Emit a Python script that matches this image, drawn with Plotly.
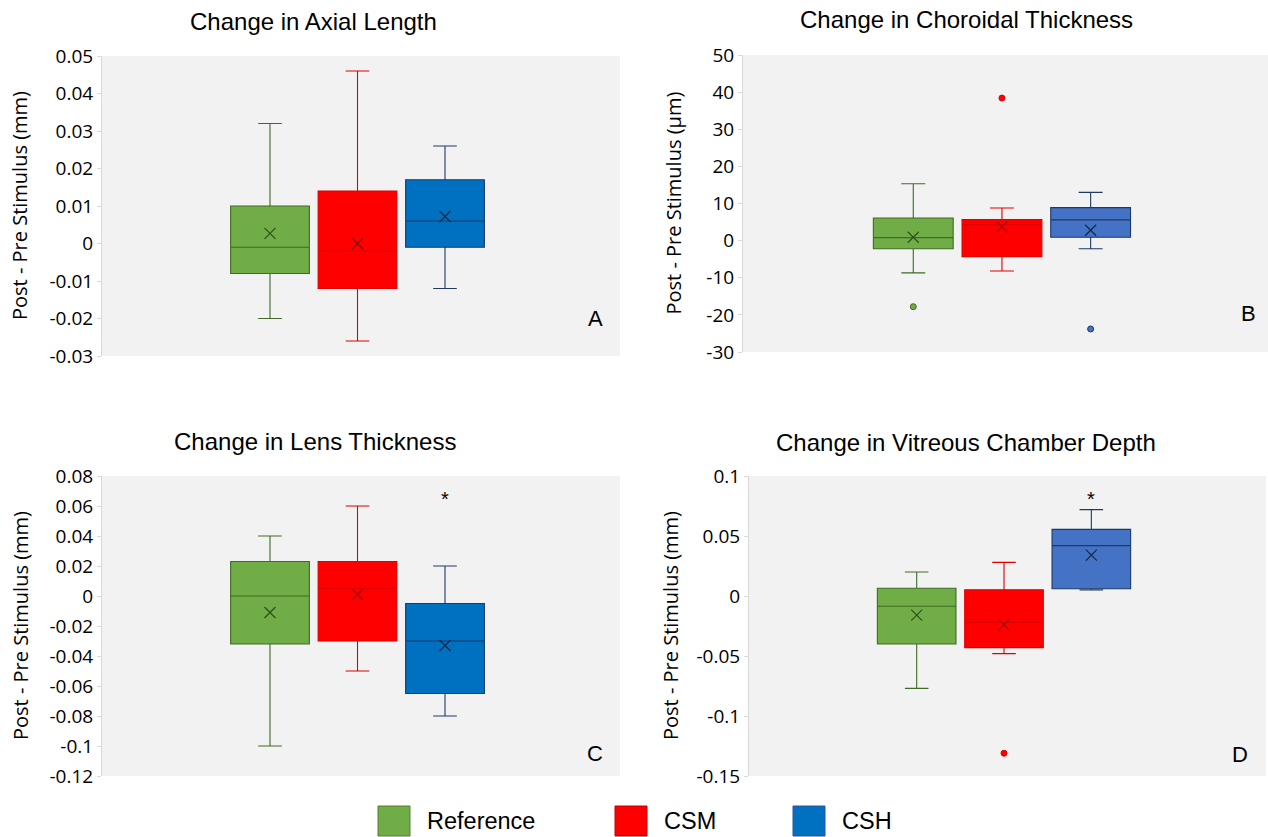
import plotly.graph_objects as go

# ---------------- data ----------------
groups = ["Reference", "CSM", "CSH"]

# Panel A: Change in Axial Length (mm)
axial_lower = [-0.020, -0.026, -0.012]
axial_q1 = [-0.008, -0.012, -0.001]
axial_median = [-0.001, -0.002, 0.006]
axial_q3 = [0.010, 0.014, 0.017]
axial_upper = [0.032, 0.046, 0.026]
axial_mean = [0.0027, 0.0, 0.0072]
axial_outliers = [[], [], []]
axial_ticks = [-0.03, -0.02, -0.01, 0, 0.01, 0.02, 0.03, 0.04, 0.05]

# Panel B: Change in Choroidal Thickness (um)
choroid_lower = [-8.7, -8.2, -2.2]
choroid_q1 = [-2.2, -4.3, 0.9]
choroid_median = [0.8, 4.3, 5.6]
choroid_q3 = [6.1, 5.7, 8.9]
choroid_upper = [15.3, 8.8, 13.0]
choroid_mean = [0.9, 3.7, 2.8]
choroid_outliers = [[-17.8], [38.4], [-23.8]]
choroid_ticks = [-30, -20, -10, 0, 10, 20, 30, 40, 50]

# Panel C: Change in Lens Thickness (mm)
lens_lower = [-0.100, -0.050, -0.080]
lens_q1 = [-0.032, -0.030, -0.065]
lens_median = [0.000, 0.005, -0.030]
lens_q3 = [0.023, 0.023, -0.005]
lens_upper = [0.040, 0.060, 0.020]
lens_mean = [-0.011, 0.001, -0.033]
lens_outliers = [[], [], []]
lens_ticks = [-0.12, -0.1, -0.08, -0.06, -0.04, -0.02, 0, 0.02, 0.04, 0.06, 0.08]

# Panel D: Change in Vitreous Chamber Depth (mm)
vcd_lower = [-0.077, -0.048, 0.005]
vcd_q1 = [-0.040, -0.043, 0.006]
vcd_median = [-0.0085, -0.022, 0.042]
vcd_q3 = [0.0065, 0.0052, 0.0555]
vcd_upper = [0.020, 0.028, 0.072]
vcd_mean = [-0.016, -0.024, 0.034]
vcd_outliers = [[], [-0.131], []]
vcd_ticks = [-0.15, -0.1, -0.05, 0, 0.05, 0.1]

# significance markers (group index, y value)
lens_sig = [(2, 0.068)]
vcd_sig = [(2, 0.085)]

# ---------------- styling ----------------
W, H = 1268, 837
def px(x):
    return x / W
def py(y):
    return 1 - y / H

fills_ac = ["#70ad47", "#ff0000", "#0070c0"]
fills_bd = ["#70ad47", "#ff0000", "#4472c4"]
lines = ["#3f6b26", "#e00000", "#1f3864"]
mean_cols = ["#2f4f1c", "#9a0000", "#152746"]
positions = [1, 2, 3]
SANS = "Open Sans, Noto Sans, sans-serif"
TICKFONT = dict(family=SANS, size=19, color="#000000")
TXTFONT = "Liberation Sans, Arial, sans-serif"

panels = [
    dict(title="Change in Axial Length", unit="(mm)", label="A",
         lower=axial_lower, q1=axial_q1, med=axial_median, q3=axial_q3, upper=axial_upper,
         mean=axial_mean, out=axial_outliers, ticks=axial_ticks, sig=[], fills=fills_ac,
         dom_x=(102, 620), dom_y=(56, 356), title_xy=(313, 22), ylab_x=20, lab_xy=(595, 318)),
    dict(title="Change in Choroidal Thickness", unit="(\u03bcm)", label="B",
         lower=choroid_lower, q1=choroid_q1, med=choroid_median, q3=choroid_q3, upper=choroid_upper,
         mean=choroid_mean, out=choroid_outliers, ticks=choroid_ticks, sig=[], fills=fills_bd,
         dom_x=(743, 1268), dom_y=(55, 352), title_xy=(966, 20), ylab_x=673, lab_xy=(1248, 313)),
    dict(title="Change in Lens Thickness", unit="(mm)", label="C",
         lower=lens_lower, q1=lens_q1, med=lens_median, q3=lens_q3, upper=lens_upper,
         mean=lens_mean, out=lens_outliers, ticks=lens_ticks, sig=lens_sig, fills=fills_ac,
         dom_x=(102, 620), dom_y=(476, 776), title_xy=(315, 441), ylab_x=20, lab_xy=(595, 753)),
    dict(title="Change in Vitreous Chamber Depth", unit="(mm)", label="D",
         lower=vcd_lower, q1=vcd_q1, med=vcd_median, q3=vcd_q3, upper=vcd_upper,
         mean=vcd_mean, out=vcd_outliers, ticks=vcd_ticks, sig=vcd_sig, fills=fills_bd,
         dom_x=(749, 1266), dom_y=(476, 776), title_xy=(966, 442), ylab_x=670, lab_xy=(1240, 754)),
]

fig = go.Figure()
annotations = []
shapes = []

for i, p in enumerate(panels, start=1):
    xa = "x" if i == 1 else f"x{i}"
    ya = "y" if i == 1 else f"y{i}"
    for g in range(3):
        fig.add_trace(go.Box(
            x=[positions[g]], q1=[p["q1"][g]], median=[p["med"][g]], q3=[p["q3"][g]],
            lowerfence=[p["lower"][g]], upperfence=[p["upper"][g]],
            width=0.9, whiskerwidth=0.3, fillcolor=p["fills"][g],
            line=dict(color=lines[g], width=1.1), boxpoints=False,
            xaxis=xa, yaxis=ya, showlegend=False, hoverinfo="skip"))
        fig.add_trace(go.Scatter(
            x=[positions[g]], y=[p["mean"][g]], mode="markers",
            marker=dict(symbol="x-thin", size=11, line=dict(width=1.2, color=mean_cols[g])),
            xaxis=xa, yaxis=ya, showlegend=False, hoverinfo="skip"))
        if p["out"][g]:
            fig.add_trace(go.Scatter(
                x=[positions[g]] * len(p["out"][g]), y=p["out"][g], mode="markers",
                marker=dict(symbol="circle", size=6, color=p["fills"][g],
                            line=dict(width=1, color=lines[g])),
                xaxis=xa, yaxis=ya, showlegend=False, hoverinfo="skip"))
    for g, yv in p["sig"]:
        annotations.append(dict(x=positions[g], y=yv, xref=xa, yref=ya, text="*", yshift=-5,
                                showarrow=False, font=dict(family=TXTFONT, size=20, color="#000")))

    ticks = p["ticks"]
    x0, x1 = p["dom_x"]
    y0, y1 = p["dom_y"]
    axx = dict(domain=[px(x0), px(x1)], anchor=ya, range=[-0.92, 5.0], automargin=False,
               showticklabels=False, showgrid=False, zeroline=False, showline=False, ticks="")
    axy = dict(domain=[py(y1), py(y0)], anchor=xa, range=[ticks[0], ticks[-1]], automargin=False,
               tickvals=ticks, ticktext=[f"{t:g}" for t in ticks],
               showgrid=False, zeroline=False, showline=True, linecolor="#d9d9d9", linewidth=1,
               ticks="outside", ticklen=4, tickcolor="#d9d9d9", tickfont=TICKFONT)
    fig.update_layout({("xaxis" if i == 1 else f"xaxis{i}"): axx,
                       ("yaxis" if i == 1 else f"yaxis{i}"): axy})

    annotations.append(dict(x=px(p["title_xy"][0]), y=py(p["title_xy"][1]), xref="paper", yref="paper",
                            text=p["title"], showarrow=False, xanchor="center", yanchor="middle",
                            font=dict(family=TXTFONT, size=24, color="#000")))
    annotations.append(dict(x=px(p["ylab_x"]), y=py((y0 + y1) / 2), xref="paper", yref="paper",
                            text="Post - Pre Stimulus " + p["unit"], textangle=-90, showarrow=False,
                            xanchor="center", yanchor="middle",
                            font=dict(family=SANS, size=20, color="#000")))
    annotations.append(dict(x=px(p["lab_xy"][0]), y=py(p["lab_xy"][1]), xref="paper", yref="paper",
                            text=p["label"], showarrow=False, xanchor="center", yanchor="middle",
                            font=dict(family=TXTFONT, size=22, color="#000")))

# legend drawn manually (large swatches)
legend_fill = ["#70ad47", "#ff0000", "#0070c0"]
legend_line = ["#507e32", "#c00000", "#2f5597"]
legend_sq_x = [378, 615, 793]
for g in range(3):
    sx = legend_sq_x[g]
    shapes.append(dict(type="rect", xref="paper", yref="paper",
                       x0=px(sx), x1=px(sx + 32), y0=py(836), y1=py(806),
                       fillcolor=legend_fill[g], line=dict(color=legend_line[g], width=1)))
    annotations.append(dict(x=px(sx + 47), y=py(821), xref="paper", yref="paper", text=groups[g],
                            showarrow=False, xanchor="left", yanchor="middle",
                            font=dict(family=TXTFONT, size=23.5, color="#000")))

fig.update_layout(width=W, height=H, margin=dict(l=0, r=0, t=0, b=0, autoexpand=False),
                  paper_bgcolor="white", plot_bgcolor="#f2f2f2",
                  annotations=annotations, shapes=shapes, showlegend=False)

fig.write_html("out.html")
